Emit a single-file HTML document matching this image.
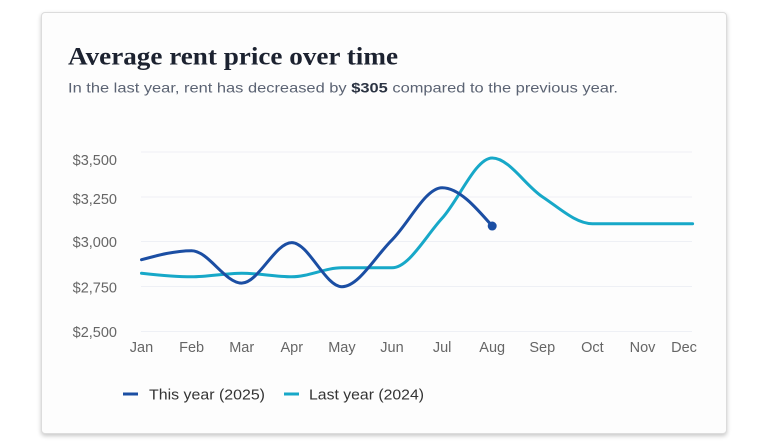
<!DOCTYPE html>
<html><head><meta charset="utf-8"><style>
html,body{margin:0;padding:0;background:#fff;width:768px;height:448px;overflow:hidden}
.card{position:absolute;left:41px;top:12px;width:684px;height:420px;border:1px solid #dcdcdc;border-radius:4px;background:#fdfdfd;box-shadow:0 2px 4px rgba(0,0,0,0.22)}
svg{position:absolute;left:0;top:0}
</style></head><body>
<div class="card"></div>
<svg width="768" height="448" viewBox="0 0 768 448" xmlns="http://www.w3.org/2000/svg">
<text x="68" y="64.5" font-family="Liberation Serif, serif" font-weight="bold" font-size="25" fill="#1c2230" textLength="330" lengthAdjust="spacingAndGlyphs">Average rent price over time</text>
<text x="68" y="92.5" font-family="Liberation Sans, sans-serif" font-size="14" fill="#5b6373" textLength="550" lengthAdjust="spacingAndGlyphs">In the last year, rent has decreased by <tspan font-weight="bold" fill="#2b3342">$305</tspan> compared to the previous year.</text>
<g stroke="#eef0f5" stroke-width="1">
<line x1="141" y1="152" x2="692" y2="152"/>
<line x1="141" y1="197" x2="692" y2="197"/>
<line x1="141" y1="241.5" x2="692" y2="241.5"/>
<line x1="141" y1="286.5" x2="692" y2="286.5"/>
<line x1="141" y1="331.5" x2="692" y2="331.5"/>
</g>
<g font-family="Liberation Sans, sans-serif" font-size="14.5" fill="#666" text-anchor="end">
<text x="117" y="165">$3,500</text>
<text x="117" y="204">$3,250</text>
<text x="117" y="247">$3,000</text>
<text x="117" y="292.5">$2,750</text>
<text x="117" y="337">$2,500</text>
</g>
<g font-family="Liberation Sans, sans-serif" font-size="14.5" fill="#666" text-anchor="middle">
<text x="141.5" y="352">Jan</text>
<text x="191.6" y="352">Feb</text>
<text x="241.7" y="352">Mar</text>
<text x="291.8" y="352">Apr</text>
<text x="341.9" y="352">May</text>
<text x="392" y="352">Jun</text>
<text x="442.1" y="352">Jul</text>
<text x="492.2" y="352">Aug</text>
<text x="542.3" y="352">Sep</text>
<text x="592.4" y="352">Oct</text>
<text x="642.5" y="352">Nov</text>
<text x="684" y="352">Dec</text>
</g>
<path id="last" fill="none" stroke="#17a8c8" stroke-width="3" stroke-linecap="round" stroke-linejoin="round"/>
<path id="this" fill="none" stroke="#1b4ea3" stroke-width="3" stroke-linecap="round" stroke-linejoin="round"/>
<circle id="dot" r="4.5" fill="#1b4ea3"/>
<rect x="123" y="392.5" width="15" height="3" fill="#1b4ea3"/>
<text x="149" y="399.5" font-family="Liberation Sans, sans-serif" font-size="14.5" fill="#333" textLength="116" lengthAdjust="spacingAndGlyphs">This year (2025)</text>
<rect x="284" y="392.5" width="15" height="3" fill="#17a8c8"/>
<text x="309" y="399.5" font-family="Liberation Sans, sans-serif" font-size="14.5" fill="#333" textLength="115" lengthAdjust="spacingAndGlyphs">Last year (2024)</text>
</svg>
<script>
(function(){
  function X(i){return 141.5+50.1*i;}
  function Y(v){return 331.7-(v-2500)*0.18;}
  function sign(x){return x<0?-1:1;}
  function path(vals){
    var xs=vals.map(function(_,i){return X(i);}), ys=vals.map(Y), n=xs.length, t=new Array(n);
    for(var i=1;i<n-1;i++){
      var h0=xs[i]-xs[i-1],h1=xs[i+1]-xs[i],s0=(ys[i]-ys[i-1])/h0,s1=(ys[i+1]-ys[i])/h1,p=(s0*h1+s1*h0)/(h0+h1);
      t[i]=(sign(s0)+sign(s1))*Math.min(Math.abs(s0),Math.abs(s1),0.5*Math.abs(p))||0;
    }
    var h=xs[1]-xs[0]; t[0]=(3*(ys[1]-ys[0])/h-t[1])/2;
    h=xs[n-1]-xs[n-2]; t[n-1]=(3*(ys[n-1]-ys[n-2])/h-t[n-2])/2;
    var d="M"+xs[0]+","+ys[0];
    for(i=0;i<n-1;i++){
      var dx=(xs[i+1]-xs[i])/3;
      d+="C"+(xs[i]+dx)+","+(ys[i]+dx*t[i])+","+(xs[i+1]-dx)+","+(ys[i+1]-dx*t[i+1])+","+xs[i+1]+","+ys[i+1];
    }
    return d;
  }
  var thisY=[2900,2950,2770,2995,2750,3010,3300,3087];
  var lastY=[2825,2805,2825,2805,2855,2855,3130,3465,3250,3100,3100,3100];
  document.getElementById('this').setAttribute('d',path(thisY));
  document.getElementById('last').setAttribute('d',path(lastY));
  var c=document.getElementById('dot');c.setAttribute('cx',X(7));c.setAttribute('cy',Y(3087));
})();
</script>
</body></html>
